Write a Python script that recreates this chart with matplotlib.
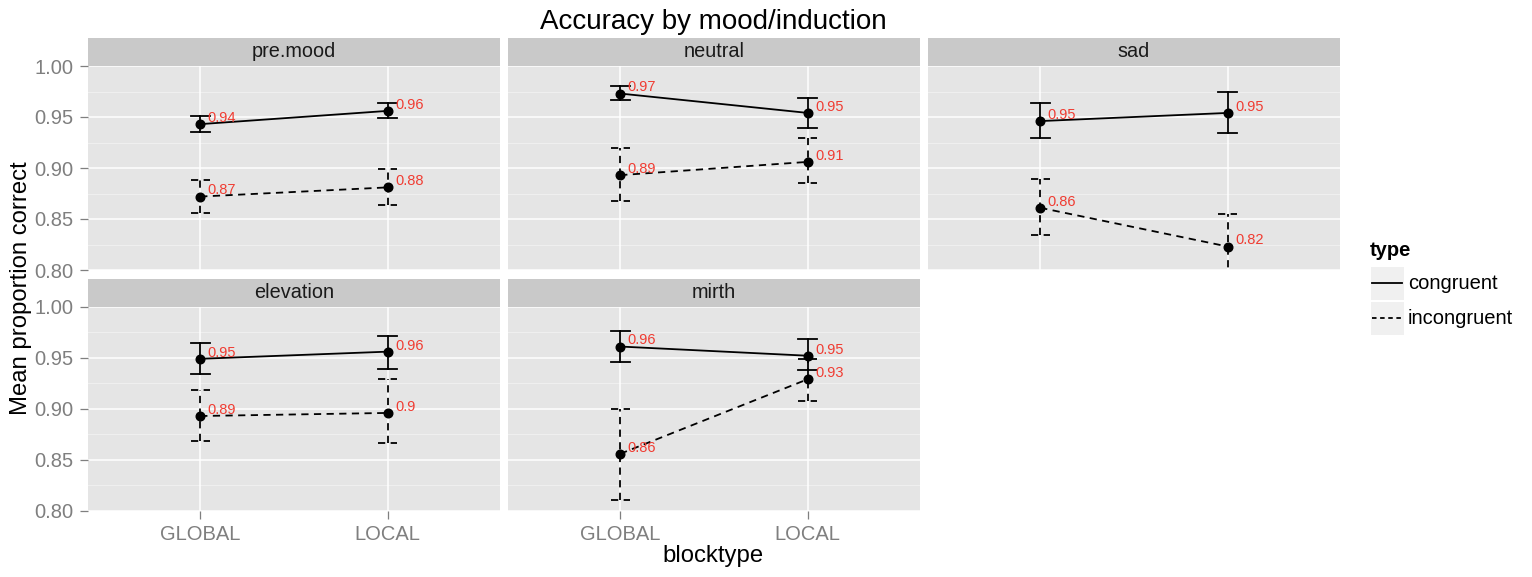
import matplotlib
matplotlib.use("Agg")
import matplotlib.pyplot as plt
from matplotlib.patches import Rectangle
from matplotlib.lines import Line2D

plt.rcParams["font.family"] = ["Liberation Sans", "DejaVu Sans"]

# --- data ---
moods = ["pre.mood", "neutral", "sad", "elevation", "mirth"]
blocktypes = ["GLOBAL", "LOCAL"]

cong_mean = [[0.943, 0.956], [0.973, 0.954], [0.946, 0.954], [0.949, 0.956], [0.961, 0.952]]
cong_lo = [[0.935, 0.949], [0.967, 0.939], [0.929, 0.934], [0.934, 0.939], [0.946, 0.938]]
cong_hi = [[0.951, 0.964], [0.980, 0.969], [0.964, 0.975], [0.964, 0.971], [0.976, 0.968]]

incong_mean = [[0.872, 0.881], [0.893, 0.906], [0.861, 0.823], [0.893, 0.896], [0.856, 0.929]]
incong_lo = [[0.856, 0.864], [0.868, 0.885], [0.834, 0.790], [0.869, 0.867], [0.811, 0.908]]
incong_hi = [[0.888, 0.899], [0.920, 0.929], [0.889, 0.855], [0.918, 0.929], [0.900, 0.949]]

y_ticks = [0.80, 0.85, 0.90, 0.95, 1.00]
y_minor = [0.825, 0.875, 0.925, 0.975]

W, H = 1532, 577
fig = plt.figure(figsize=(W / 100, H / 100), dpi=100)


def rect(x0, x1, y0, y1):
    return [x0 / W, 1 - y1 / H, (x1 - x0) / W, (y1 - y0) / H]


col_x = [(87.7, 500.2), (507.7, 920.2), (927.7, 1340.2)]
row_y = [(66, 270), (306.7, 511)]
strip_y = [(37.7, 66), (279, 306.7)]

grey_txt = "#7F7F7F"
red = "#F03C32"
dash = (0, (4, 3))

series = [
    (cong_mean, cong_lo, cong_hi, "-"),
    (incong_mean, incong_lo, incong_hi, dash),
]

for i, mood in enumerate(moods):
    r, c = divmod(i, 3)
    x0, x1 = col_x[c]
    y0, y1 = row_y[r]
    ax = fig.add_axes(rect(x0, x1, y0, y1))
    ax.set_facecolor("#E5E5E5")
    for s in ax.spines.values():
        s.set_visible(False)
    ax.set_xlim(0.4, 2.6)
    ax.set_ylim(0.80, 1.00)

    # grid
    for y in y_minor:
        ax.axhline(y, color="#F2F2F2", lw=0.6, zorder=0)
    for y in y_ticks:
        ax.axhline(y, color="white", lw=1.1, zorder=0)
    for x in (1, 2):
        ax.axvline(x, color="white", lw=1.1, zorder=0)

    xs = [1, 2]
    for means, lo, hi, ls in series:
        m = means[i]
        ax.plot(xs, m, color="black", lw=1.3, ls=ls, zorder=3)
        for x, a, b in zip(xs, lo[i], hi[i]):
            ax.plot([x, x], [a, b], color="black", lw=1.3, ls=ls, zorder=3)
            ax.plot([x - 0.05, x + 0.05], [a, a], color="black", lw=1.3, ls=ls, zorder=3)
            ax.plot([x - 0.05, x + 0.05], [b, b], color="black", lw=1.3, ls=ls, zorder=3)
        ax.plot(xs, m, "o", color="black", ms=6.2, zorder=4)
        for x, v in zip(xs, m):
            ax.annotate(f"{round(v, 2):g}", (x, v), xytext=(5.5, 1.5),
                        textcoords="offset points", ha="left", va="baseline",
                        color=red, fontsize=10.5, zorder=5)

    ax.set_yticks(y_ticks)
    ax.set_yticks([], minor=True)
    ax.set_xticks(xs)
    ax.tick_params(length=6, width=0.9, color=grey_txt, labelcolor=grey_txt,
                   labelsize=14.5, pad=4)
    if c == 0:
        ax.set_yticklabels([f"{v:.2f}" for v in y_ticks])
    else:
        ax.tick_params(axis="y", left=False, labelleft=False)
    if r == 1:
        ax.set_xticklabels(blocktypes)
    else:
        ax.tick_params(axis="x", bottom=False, labelbottom=False)

    # strip
    sy0, sy1 = strip_y[r]
    sax = fig.add_axes(rect(x0, x1, sy0, sy1))
    sax.set_facecolor("#C9C9C9")
    sax.set_xticks([])
    sax.set_yticks([])
    for s in sax.spines.values():
        s.set_visible(False)
    sax.text(0.5, 0.5, mood, ha="center", va="center", fontsize=14.3,
             color="#1A1A1A", transform=sax.transAxes)

fig.text(713 / W, 1 - 22 / H, "Accuracy by mood/induction", ha="center",
         va="center", fontsize=20)
fig.text(713 / W, 1 - 556 / H, "blocktype", ha="center", va="center", fontsize=17.2)
fig.text(21 / W, 1 - 288 / H, "Mean proportion correct", ha="center", va="center",
         rotation=90, fontsize=17.2)

# legend
lax = fig.add_axes(rect(1360, 1532, 235, 345))
lax.set_xlim(1360, 1532)
lax.set_ylim(345, 235)
lax.axis("off")
lax.text(1370, 251, "type", fontweight="bold", fontsize=14.5, va="center", ha="left")
labels = ["congruent", "incongruent"]
styles = ["-", (0, (2.5, 2))]
for k, (lab, st) in enumerate(zip(labels, styles)):
    top = 267 + k * 35
    lax.add_patch(Rectangle((1371, top), 32.5, 33, color="#F0F0F0", lw=0))
    lax.add_line(Line2D([1372, 1402], [top + 16.5, top + 16.5], color="black",
                        lw=1.3, ls=st))
    lax.text(1408, top + 17, lab, fontsize=14.5, va="center", ha="left")

fig.savefig("out.png", dpi=100)
